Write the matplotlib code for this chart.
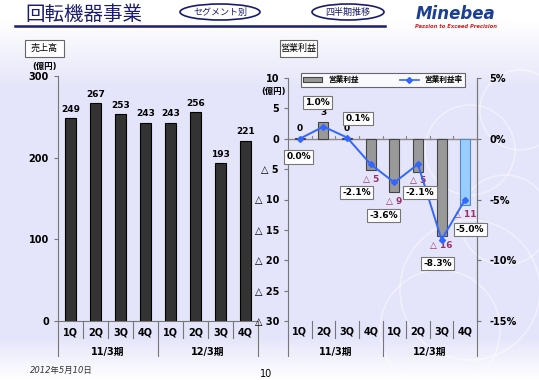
"""
Rotating machinery segment: quarterly sales and operating income.
"""

import numpy as np
import matplotlib.pyplot as plt
from matplotlib.patches import Rectangle, Ellipse
from matplotlib.lines import Line2D

JP = ["DejaVu Sans", "Noto Sans CJK JP"]
plt.rcParams["font.family"] = JP

quarters = ["1Q", "2Q", "3Q", "4Q", "1Q", "2Q", "3Q", "4Q"]
periods = ["11/3期", "12/3期"]
sales = [249, 267, 253, 243, 243, 256, 193, 221]
op_profit = [0.1, 2.7, 0.1, -5.2, -8.8, -5.4, -16.0, -10.9]
op_margin = [0.0, 1.0, 0.1, -2.1, -3.6, -2.1, -8.3, -5.0]

NAVY = "#1c1c6e"
LAVENDER = np.array([228, 228, 250]) / 255
W, H = 539, 380


def fx(px):
    return px / W


def fy(py):
    return 1 - py / H


def category_axis(ax, label_y, period_y, short_y, long_y):
    n = len(quarters)
    tr = ax.get_xaxis_transform()
    for i, q in enumerate(quarters):
        ax.text(i, label_y, q, transform=tr, ha="center", va="center",
                fontsize=7, fontweight="bold", clip_on=False)
    for i in range(1, n):
        bottom = long_y if i % 4 == 0 else short_y
        ax.add_line(Line2D([i - 0.5, i - 0.5], [0, bottom], transform=tr,
                           color="#777777", lw=0.8, clip_on=False))
    for edge in (-0.5, n - 0.5):
        ax.add_line(Line2D([edge, edge], [0, long_y], transform=tr,
                           color="#777777", lw=0.8, clip_on=False))
    for k, p in enumerate(periods):
        ax.text(k * 4 + 1.5, period_y, p, transform=tr, ha="center",
                va="center", fontsize=7, fontweight="bold", clip_on=False)


fig = plt.figure(figsize=(W / 100, H / 100), dpi=100)

# background gradient
bg = fig.add_axes([0, 0, 1, 1], zorder=-10)
rows = np.arange(H)
w = np.ones(H)
w[rows < 20] = 0.0
mid = (rows >= 20) & (rows < 90)
w[mid] = (rows[mid] - 20) / 70
tail = rows >= 335
w[tail] = 1 - (rows[tail] - 335) / 45
w = np.clip(w, 0, 1)
img = (1 - w)[:, None, None] * np.ones(3) + w[:, None, None] * LAVENDER
img = np.repeat(img, 4, axis=1)
bg.imshow(img, aspect="auto", extent=(0, W, H, 0))
for cx, cy, r in [(470, 150, 45), (520, 110, 40), (505, 220, 45),
                  (470, 290, 70), (440, 330, 60)]:
    bg.add_patch(plt.Circle((cx, cy), r, fill=False, ec="white",
                            lw=1.2, alpha=0.45))
bg.set_xlim(0, W)
bg.set_ylim(H, 0)
bg.axis("off")

# header
fig.text(fx(25), fy(15), "回転機器事業", fontsize=14, color=NAVY,
         va="center", ha="left", family=["Noto Sans CJK JP"])
bg.plot([15, 385], [26, 26], color=NAVY, lw=1.8)
for cx, wd, txt in [(220, 80, "セグメント別"), (348, 72, "四半期推移")]:
    bg.add_patch(Ellipse((cx, 12), wd, 16, fc="white", ec=NAVY, lw=1.2))
    bg.text(cx, 12, txt, ha="center", va="center", fontsize=6.5,
            color=NAVY, family=["Noto Sans CJK JP"])
fig.text(fx(456), fy(14), "Minebea", fontsize=12, color="#1c3f94",
         fontweight="bold", style="italic", ha="center", va="center")
fig.text(fx(456), fy(26), "Passion to Exceed Precision", fontsize=3.8,
         color="#cc2222", fontweight="bold", style="italic",
         ha="center", va="center")

for x0, x1, txt in [(25, 64, "売上高"), (280, 317, "営業利益")]:
    bg.add_patch(Rectangle((x0, 40), x1 - x0, 17, fc="white", ec="#666666",
                           lw=0.8))
    bg.text((x0 + x1) / 2, 48.5, txt, ha="center", va="center",
            fontsize=6.5, family=["Noto Sans CJK JP"])

fig.text(fx(30), fy(370), "2012年5月10日", fontsize=6, style="italic",
         ha="left", va="center", color="#333333")
fig.text(fx(266), fy(374), "10", fontsize=7, ha="center", va="center")

# sales chart
ax1 = fig.add_axes([fx(58), fy(321), fx(200), (321 - 76) / H])
ax1.set_facecolor("none")
x = np.arange(len(sales))
bars = ax1.bar(x, sales, width=0.44, color="#333333", edgecolor="black",
               lw=0.8)
for b, v in zip(bars, sales):
    ax1.text(b.get_x() + b.get_width() / 2, v + 5, f"{v}", ha="center",
             va="bottom", fontsize=6.5, fontweight="bold")
ax1.set_xlim(-0.5, len(sales) - 0.5)
ax1.set_ylim(0, 300)
ax1.set_yticks([0, 100, 200, 300])
ax1.tick_params(axis="y", labelsize=7, length=3, color="#777777")
for lab in ax1.get_yticklabels():
    lab.set_fontweight("bold")
ax1.set_xticks([])
for s in ("top", "right"):
    ax1.spines[s].set_visible(False)
ax1.spines["left"].set_color("#777777")
ax1.spines["bottom"].set_color("#777777")
ax1.spines["left"].set_bounds(0, 300)
category_axis(ax1, -0.045, -0.127, -0.07, -0.143)
ax1.text(-0.13, 1.04, "(億円)", transform=ax1.transAxes, fontsize=6,
         fontweight="bold", ha="left", va="center")

# operating income chart
ax2 = fig.add_axes([fx(288), fy(321), fx(189), (321 - 78) / H])
ax2.set_facecolor("none")
colors = ["#999999"] * (len(op_profit) - 1) + ["#99ccff"]
edges = ["#444444"] * (len(op_profit) - 1) + ["#5588bb"]
bars2 = ax2.bar(x, op_profit, width=0.42, color=colors, edgecolor=edges,
                lw=0.8, zorder=2)
for b, v in zip(bars2, op_profit):
    cx = b.get_x() + b.get_width() / 2
    if v >= 0:
        ax2.text(cx, v + 0.8, f"{round(v)}", ha="center", va="bottom",
                 fontsize=6.5, fontweight="bold", zorder=5)
    else:
        ax2.text(cx, v - 0.8, f"△ {round(-v)}", ha="center", va="top",
                 fontsize=6.5, fontweight="bold", color="#993366", zorder=5)
ax2.axhline(0, color="#888888", lw=1, zorder=1)
for i in range(1, len(op_profit)):
    ax2.plot([i - 0.5, i - 0.5], [0, 0.5], color="#888888", lw=0.8)
ax2.set_xlim(-0.5, len(op_profit) - 0.5)
ax2.set_ylim(-30, 10)
yt = [10, 5, 0, -5, -10, -15, -20, -25, -30]
ax2.set_yticks(yt)
ax2.set_yticklabels([f"{v}" if v >= 0 else f"△ {-v}" for v in yt])
ax2.tick_params(axis="y", labelsize=7, length=3, color="#777777")
for lab in ax2.get_yticklabels():
    lab.set_fontweight("bold")
ax2.set_xticks([])
for s in ("top", "bottom"):
    ax2.spines[s].set_visible(False)
ax2.spines["left"].set_color("#777777")
ax2.spines["right"].set_color("#777777")
ax2.spines["left"].set_bounds(-30, 10)
category_axis(ax2, -0.045, -0.128, -0.07, -0.144)
ax2.text(-0.14, 0.945, "(億円)", transform=ax2.transAxes, fontsize=6,
         fontweight="bold", ha="left", va="center")

ax3 = ax2.twinx()
ax3.set_ylim(-15, 5)
ax3.plot(x, op_margin, color="#3366ff", lw=1.4, marker="D", markersize=3,
         zorder=4)
ax3.set_yticks([5, 0, -5, -10, -15])
ax3.set_yticklabels(["5%", "0%", "-5%", "-10%", "-15%"])
ax3.tick_params(axis="y", labelsize=7, length=3, color="#777777", pad=6)
for lab in ax3.get_yticklabels():
    lab.set_fontweight("bold")
for s in ("top", "bottom", "left"):
    ax3.spines[s].set_visible(False)
ax3.spines["right"].set_color("#777777")

offsets = [(-1, -18), (-6, 24), (11, 19), (-14, -28), (-11, -33),
           (2, -28), (-4, -24), (5, -30)]
for i, (v, off) in enumerate(zip(op_margin, offsets)):
    ax3.annotate(f"{v:.1f}%", (i, v), xytext=off, textcoords="offset pixels",
                 ha="center", va="center", fontsize=6.5, fontweight="bold",
                 bbox=dict(boxstyle="square,pad=0.25", fc="white",
                           ec="#777777", lw=0.8), zorder=6)

handles = [Rectangle((0, 0), 1, 1, fc="#999999", ec="#444444", lw=0.8),
           Line2D([], [], color="#3366ff", lw=1.2, marker="D", markersize=3)]
leg = ax3.legend(handles, ["営業利益", "営業利益率"], loc="center", ncol=2,
                 bbox_to_anchor=(0.048, 0.963, 0.91, 0.058), mode="expand",
                 frameon=True, fancybox=False, borderpad=0.3,
                 handlelength=2.5, handleheight=0.6,
                 prop={"weight": "bold", "size": 5.5, "family": JP})
leg.get_frame().set_edgecolor("#444444")
leg.get_frame().set_linewidth(0.8)
leg.get_frame().set_facecolor("white")

fig.savefig("out.png", dpi=100)
